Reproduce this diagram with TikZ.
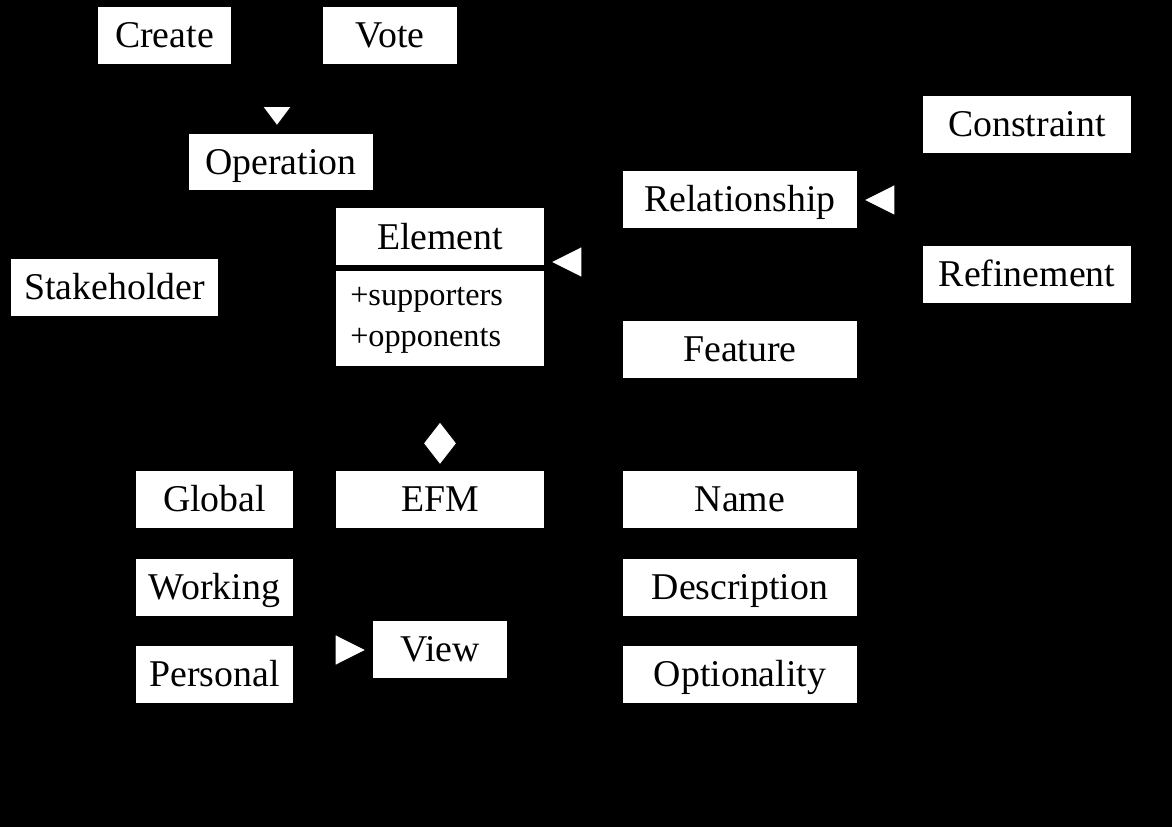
\documentclass[tikz,border=0pt]{standalone}
\usepackage{fontspec}
\setmainfont{Liberation Serif}
\usetikzlibrary{arrows.meta}
\tikzset{
  box/.style={fill=white, draw=none, inner sep=0pt, font=\fontsize{28.35}{34}\selectfont, text height=18.6pt, text depth=0pt, minimum height=42.75pt},
  attr/.style={inner sep=0pt, font=\fontsize{24.2}{29}\selectfont, anchor=base west},
  conn/.style={draw=black, line width=0.75pt},
  genv/.style={conn, -{Triangle[open, fill=white, length=15.5pt, width=23pt]}, shorten >=5.5pt},
  genh/.style={conn, -{Triangle[open, fill=white, length=24.5pt, width=24.5pt]}, shorten >=4.3pt},
  comp/.style={conn, -{Diamond[open, fill=white, length=33.5pt, width=26pt]}, shorten >=4pt}
}
\begin{document}
\begin{tikzpicture}[x=0.75pt, y=-0.75pt]
\fill[black] (0,0) rectangle (1172,827);
% boxes
\node[box, minimum width=99.75pt] (create) at (164.5,35.5) {Create};
\node[box, minimum width=100.5pt] (vote) at (390,35.5) {Vote};
\node[box, minimum width=138pt, minimum height=42pt] (operation) at (281,162) {Operation};
\node[box, minimum width=156pt] (constraint) at (1027,124.5) {Constraint};
\node[box, minimum width=175.5pt] (relationship) at (740,199.5) {Relationship};
\node[box, minimum width=156pt] (refinement) at (1027,274.5) {Refinement};
\node[box, minimum width=175.5pt] (feature) at (740,349.5) {Feature};
\node[box, minimum width=155.25pt] (stakeholder) at (114.5,287.5) {Stakeholder};
% Element class
\node[box, minimum width=156pt, minimum height=118.5pt] (element) at (440,287) {};
\node[box, minimum width=156pt, minimum height=43.5pt] (elemhead) at (440,237) {Element};
\draw[black, line width=4.5pt] (element.west |- 0,268) -- (element.east |- 0,268);
\node[attr] (supp) at (350,306) {+supporters};
\node[attr] (opp) at (350,347) {+opponents};
% lower part
\node[box, minimum width=117.75pt] (global) at (214.5,499.5) {Global};
\node[box, minimum width=156pt] (efm) at (440,499.5) {EFM};
\node[box, minimum width=175.5pt] (name) at (740,499.5) {Name};
\node[box, minimum width=117.75pt] (working) at (214.5,587.5) {Working};
\node[box, minimum width=175.5pt] (description) at (740,587.5) {Description};
\node[box, minimum width=100.5pt] (view) at (440,649.5) {View};
\node[box, minimum width=117.75pt] (personal) at (214.5,674.5) {Personal};
\node[box, minimum width=175.5pt] (optionality) at (740,674.5) {Optionality};
% connector end points
\coordinate (opT) at (277,134);
\coordinate (elemR) at (544,262);
\coordinate (relR) at (857,200);
\coordinate (viewL) at (373,650);
\coordinate (efmT) at (440,471);
% generalizations
\draw[genv] (create.south) -- ++(0,22) -| (opT);
\draw[genv] (vote.south) -- ++(0,22) -| (opT);
\draw[genh] (relationship.west) -- ++(-25,0) |- (elemR);
\draw[genh] (feature.west) -- ++(-25,0) |- (elemR);
\draw[genh] (constraint.west) -- ++(-14,0) |- (relR);
\draw[genh] (refinement.west) -- ++(-14,0) |- (relR);
\draw[genh] (global.east) -- ++(22,0) |- (viewL);
\draw[genh] (working.east) -- ++(22,0) |- (viewL);
\draw[genh] (personal.east) -- ++(22,0) |- (viewL);
% composition
\draw[comp] (element.south) -- (efmT);
\end{tikzpicture}
\end{document}
